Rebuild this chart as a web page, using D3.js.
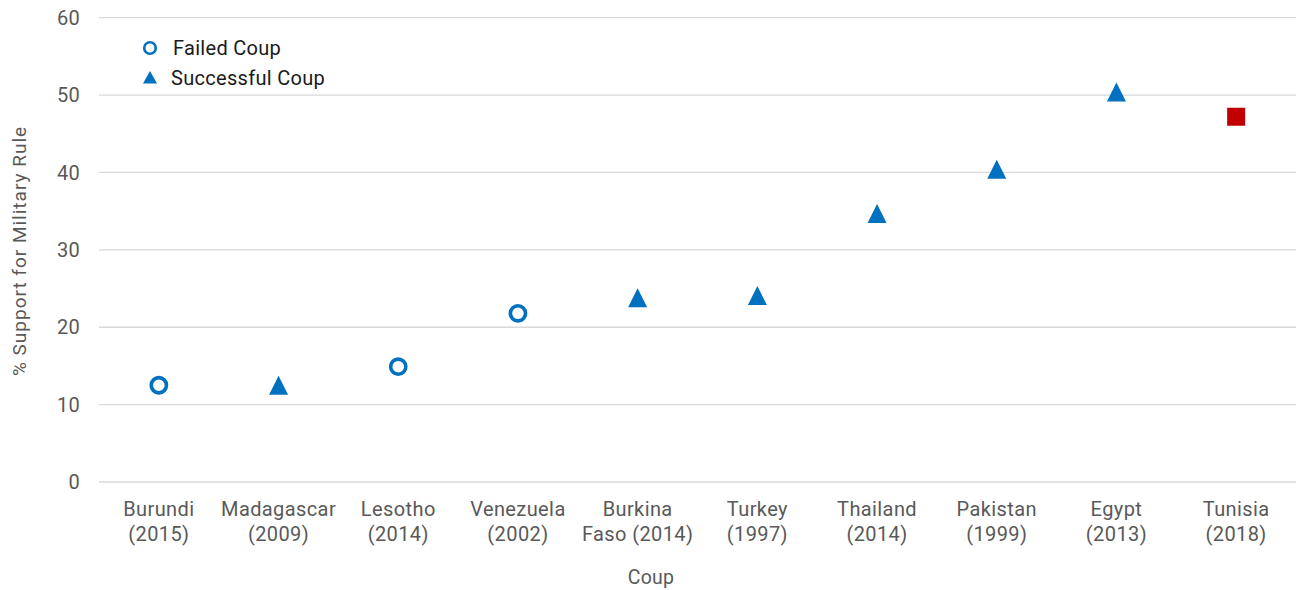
<!DOCTYPE html>
<html><head><meta charset="utf-8">
<script src="https://cdn.jsdelivr.net/npm/d3@7"></script>
<style>body{margin:0;background:#fff}svg{display:block}text{font-family:"Roboto","Liberation Sans",sans-serif}</style>
</head><body><svg id="c" width="1296" height="590"></svg>
<script>
const categories = ["Burundi (2015)","Madagascar (2009)","Lesotho (2014)","Venezuela (2002)","Burkina Faso (2014)","Turkey (1997)","Thailand (2014)","Pakistan (1999)","Egypt (2013)","Tunisia (2018)"];
const labelLines = [["Burundi","(2015)"],["Madagascar","(2009)"],["Lesotho","(2014)"],["Venezuela","(2002)"],["Burkina","Faso (2014)"],["Turkey","(1997)"],["Thailand","(2014)"],["Pakistan","(1999)"],["Egypt","(2013)"],["Tunisia","(2018)"]];
const values = [12.5, 12.5, 14.9, 21.8, 23.8, 24.1, 34.7, 40.4, 50.4, 47.2];
const types = ["failed","successful","failed","failed","successful","successful","successful","successful","successful","tunisia"];
const yTicks = [0,10,20,30,40,50,60];
const legendItems = [{label:"Failed Coup", type:"failed"},{label:"Successful Coup", type:"successful"}];

const svg = d3.select("#c");
const m = {l:99};
const x = d3.scaleBand().domain(categories).range([m.l, 1296]);
const y = d3.scaleLinear().domain([0,60]).range([482, 17.7]);

svg.append("g").selectAll("line").data(yTicks).join("line")
  .attr("x1", m.l).attr("x2", 1296)
  .attr("y1", d=>y(d)).attr("y2", d=>y(d))
  .attr("stroke", "#d9d9d9").attr("stroke-width", 1.3);

svg.append("g").selectAll("text").data(yTicks).join("text")
  .attr("x", 80).attr("y", d=>y(d)).attr("dy","0.36em")
  .attr("text-anchor","end").attr("fill","#595959").attr("font-size",20).attr("letter-spacing",0.3)
  .text(d=>d);

const xl = svg.append("g").selectAll("text").data(categories).join("text")
  .attr("x", d=>x(d)+x.bandwidth()/2).attr("y", 516)
  .attr("text-anchor","middle").attr("fill","#595959").attr("font-size",20).attr("letter-spacing",0.4);
xl.each(function(d,i){
  const t = d3.select(this);
  labelLines[i].forEach((ln,j)=>{
    t.append("tspan").attr("x", x(d)+x.bandwidth()/2).attr("y", 516 + j*25).text(ln);
  });
});

svg.append("text").attr("x", 651).attr("y", 584).attr("text-anchor","middle")
  .attr("fill","#595959").attr("font-size",19.5).attr("letter-spacing",0.3).text("Coup");
svg.append("text").attr("transform","translate(26,251) rotate(-90)").attr("text-anchor","middle")
  .attr("fill","#595959").attr("font-size",19).attr("letter-spacing",1).text("% Support for Military Rule");

const tri = {draw(ctx, size){ const s = Math.sqrt(size); ctx.moveTo(0,-s/2); ctx.lineTo(s/2,s/2); ctx.lineTo(-s/2,s/2); ctx.closePath(); }};

function drawMarker(g, type){
  if(type==="failed"){
    g.append("circle").attr("r", 7.6).attr("fill","#fff").attr("stroke","#0070c0").attr("stroke-width", 3.6);
  } else if(type==="successful"){
    g.append("path").attr("d", d3.symbol().type(tri).size(19*19)()).attr("fill","#0070c0");
  } else {
    g.append("path").attr("d", d3.symbol().type(d3.symbolSquare).size(18*18)()).attr("fill","#c00000");
  }
}

const pts = svg.append("g").selectAll("g").data(categories).join("g")
  .attr("transform",(d,i)=>`translate(${x(d)+x.bandwidth()/2},${y(values[i])})`);
pts.each(function(d,i){ drawMarker(d3.select(this), types[i]); });

const lg = svg.append("g").selectAll("g").data(legendItems).join("g")
  .attr("transform",(d,i)=>`translate(150,${48 + i*29.5})`);
lg.each(function(d){
  const g = d3.select(this);
  if(d.type==="failed") g.append("circle").attr("r",5.8).attr("fill","#fff").attr("stroke","#0070c0").attr("stroke-width",2.6);
  else g.append("path").attr("d", d3.symbol().type({draw(ctx){ctx.moveTo(0,-6.5);ctx.lineTo(7,6);ctx.lineTo(-7,6);ctx.closePath();}})()).attr("fill","#0070c0");
  g.append("text").attr("x", d.type==="failed"?23:21).attr("y",0).attr("dy","0.36em")
    .attr("fill","#1a1a1a").attr("font-size",20).attr("letter-spacing",0.3).text(d.label);
});
</script></body></html>
